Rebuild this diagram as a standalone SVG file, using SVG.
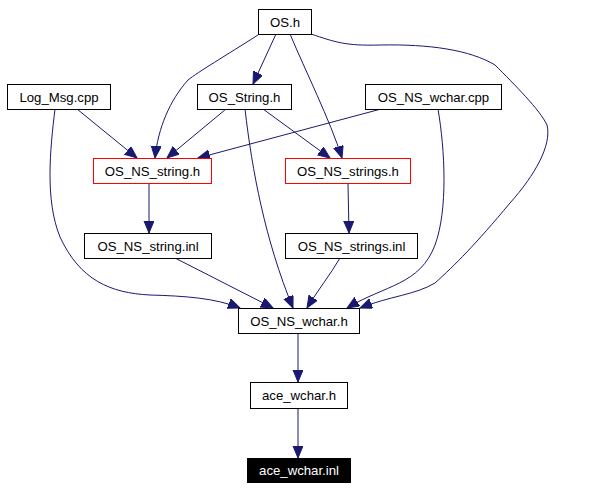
<svg xmlns="http://www.w3.org/2000/svg" width="596" height="490" viewBox="0 0 596 490">
<style>
.n rect{fill:#fff;stroke:#000;stroke-width:1}
.n.r rect{stroke:#ff0000}
.n.b rect{fill:#000;stroke:#000}
.n text{font-family:"Liberation Sans",Arial,sans-serif;font-size:13.2px;fill:#000;text-anchor:middle}
.n.b text{fill:#fff}
#edges path{fill:none;stroke:#191970;stroke-width:1;marker-end:url(#ah)}
</style>
<defs>
<marker id="ah" markerUnits="userSpaceOnUse" markerWidth="14" markerHeight="12" refX="12" refY="5" orient="auto">
<path d="M0,0 L12,5 L0,10 z" fill="#191970" stroke="#191970" stroke-width="1"/>
</marker>
</defs>
<rect width="596" height="490" fill="#fff"/>
<g id="edges">
<path d="M276,34 L253,84"/>
<path d="M258,35 C225,56 198,72 188,80 C170,100 158,128 155,158"/>
<path d="M290,34 C305,70 330,120 342,158"/>
<path d="M311,34 C335,42 345,46 380,45 C430,44 470,50 495,65 C515,85 540,110 547,125 C552,145 535,175 510,203 C475,245 455,265 435,283 C415,295 390,296 360,308"/>
<path d="M77,109 L137,158"/>
<path d="M55,109 C50,150 45,200 60,237 C80,280 110,293 150,295 C185,296 215,298 240,308"/>
<path d="M226,109 L167,158"/>
<path d="M263,109 L330,158"/>
<path d="M245,109 C252,170 265,240 293,308"/>
<path d="M381,109 L198,158"/>
<path d="M438,109 C445,150 448,210 435,245 C420,285 385,285 347,308"/>
<path d="M149,184 L149,233"/>
<path d="M348,184 L349,233"/>
<path d="M175,258 L273,308"/>
<path d="M340,258 C330,275 318,290 307,308"/>
<path d="M298,333 L298,382"/>
<path d="M298,408 L298,458"/>
</g>
<g id="n_os_h" class="n"><rect x="258.5" y="9.5" width="53" height="25"/><text x="285" y="26.5">OS.h</text></g>
<g id="n_log_msg_cpp" class="n"><rect x="7.5" y="84.5" width="103" height="25"/><text x="59" y="101.5">Log_Msg.cpp</text></g>
<g id="n_os_string_h" class="n"><rect x="197.5" y="84.5" width="94" height="25"/><text x="244.5" y="101.5">OS_String.h</text></g>
<g id="n_os_ns_wchar_cpp" class="n"><rect x="365.5" y="84.5" width="136" height="25"/><text x="433.5" y="101.5">OS_NS_wchar.cpp</text></g>
<g id="n_os_ns_string_h" class="n r"><rect x="93.5" y="158.5" width="118" height="25"/><text x="152.5" y="175.5">OS_NS_string.h</text></g>
<g id="n_os_ns_strings_h" class="n r"><rect x="285.5" y="158.5" width="125" height="25"/><text x="348" y="175.5">OS_NS_strings.h</text></g>
<g id="n_os_ns_string_inl" class="n"><rect x="84.5" y="233.5" width="127" height="25"/><text x="148" y="250.5">OS_NS_string.inl</text></g>
<g id="n_os_ns_strings_inl" class="n"><rect x="285.5" y="233.5" width="132" height="25"/><text x="351.5" y="250.5">OS_NS_strings.inl</text></g>
<g id="n_os_ns_wchar_h" class="n"><rect x="238.5" y="308.5" width="121" height="25"/><text x="299" y="325.5">OS_NS_wchar.h</text></g>
<g id="n_ace_wchar_h" class="n"><rect x="250.5" y="382.5" width="97" height="26"/><text x="299" y="400">ace_wchar.h</text></g>
<g id="n_ace_wchar_inl" class="n b"><rect x="247.5" y="458.5" width="103" height="24"/><text x="299" y="475">ace_wchar.inl</text></g>
</svg>
